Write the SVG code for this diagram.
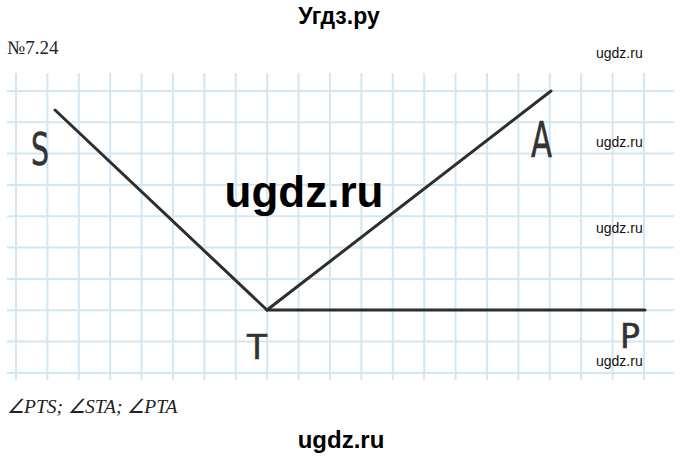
<svg xmlns="http://www.w3.org/2000/svg" width="680" height="457" viewBox="0 0 680 457">
<style>
.grid line{stroke:#d3e6f3;stroke-width:2}
.seg{stroke:#2e2e2e;stroke-width:3;stroke-linecap:round;fill:none}
.hand{font-family:"DejaVu Sans","Liberation Sans",sans-serif;fill:#333;stroke:#333;stroke-width:0.6}
.wm{font-family:"Liberation Sans",Arial,sans-serif;font-size:14px;fill:#111}
.bold{font-family:"Liberation Sans",Arial,sans-serif;font-weight:bold;fill:#000}
.serif{font-family:"Liberation Serif","Times New Roman",serif;fill:#222}
</style>
<rect width="680" height="457" fill="#fff"/>
<g id="grid" class="grid">
<line x1="16" y1="73" x2="16" y2="380"/>
<line x1="47.4" y1="73" x2="47.4" y2="380"/>
<line x1="78.8" y1="73" x2="78.8" y2="380"/>
<line x1="110.2" y1="73" x2="110.2" y2="380"/>
<line x1="141.6" y1="73" x2="141.6" y2="380"/>
<line x1="173" y1="73" x2="173" y2="380"/>
<line x1="204.4" y1="73" x2="204.4" y2="380"/>
<line x1="235.8" y1="73" x2="235.8" y2="380"/>
<line x1="267.2" y1="73" x2="267.2" y2="380"/>
<line x1="298.6" y1="73" x2="298.6" y2="380"/>
<line x1="330" y1="73" x2="330" y2="380"/>
<line x1="361.4" y1="73" x2="361.4" y2="380"/>
<line x1="392.8" y1="73" x2="392.8" y2="380"/>
<line x1="424.2" y1="73" x2="424.2" y2="380"/>
<line x1="455.6" y1="73" x2="455.6" y2="380"/>
<line x1="487" y1="73" x2="487" y2="380"/>
<line x1="518.4" y1="73" x2="518.4" y2="380"/>
<line x1="549.8" y1="73" x2="549.8" y2="380"/>
<line x1="581.2" y1="73" x2="581.2" y2="380"/>
<line x1="612.6" y1="73" x2="612.6" y2="380"/>
<line x1="644" y1="73" x2="644" y2="380"/>
<line x1="7" y1="91" x2="674" y2="91"/>
<line x1="7" y1="122.3" x2="674" y2="122.3"/>
<line x1="7" y1="153.6" x2="674" y2="153.6"/>
<line x1="7" y1="185" x2="674" y2="185"/>
<line x1="7" y1="216.3" x2="674" y2="216.3"/>
<line x1="7" y1="247.6" x2="674" y2="247.6"/>
<line x1="7" y1="279" x2="674" y2="279"/>
<line x1="7" y1="310.3" x2="674" y2="310.3"/>
<line x1="7" y1="341.6" x2="674" y2="341.6"/>
<line x1="7" y1="373" x2="674" y2="373"/>
</g>
<g id="connectors">
<line class="seg" x1="55" y1="110" x2="267" y2="310"/>
<line class="seg" x1="267" y1="310" x2="551" y2="91"/>
<line class="seg" x1="267" y1="310" x2="645" y2="310"/>
</g>
<g id="node-S"><text class="hand" x="31" y="165" font-size="44" textLength="18" lengthAdjust="spacingAndGlyphs">S</text></g>
<g id="node-A"><text class="hand" x="531" y="157" font-size="50" textLength="21" lengthAdjust="spacingAndGlyphs">A</text></g>
<g id="node-T"><text class="hand" x="247" y="359" font-size="34" textLength="20" lengthAdjust="spacingAndGlyphs">T</text></g>
<g id="node-P"><text class="hand" x="620" y="348" font-size="34" textLength="20" lengthAdjust="spacingAndGlyphs">P</text></g>
<text class="bold" x="339" y="24" font-size="23" text-anchor="middle">Угдз.ру</text>
<text class="serif" x="7" y="54" font-size="19">№7.24</text>
<text class="wm" x="596" y="58">ugdz.ru</text>
<text class="wm" x="596" y="147">ugdz.ru</text>
<text class="wm" x="596" y="233">ugdz.ru</text>
<text class="wm" x="596" y="366">ugdz.ru</text>
<text class="bold" x="304" y="207" font-size="44" text-anchor="middle">ugdz.ru</text>
<text class="serif" x="7" y="413" font-size="19.5" font-style="italic">∠PTS; ∠STA; ∠PTA</text>
<text class="bold" x="341" y="448" font-size="24" text-anchor="middle">ugdz.ru</text>
</svg>
